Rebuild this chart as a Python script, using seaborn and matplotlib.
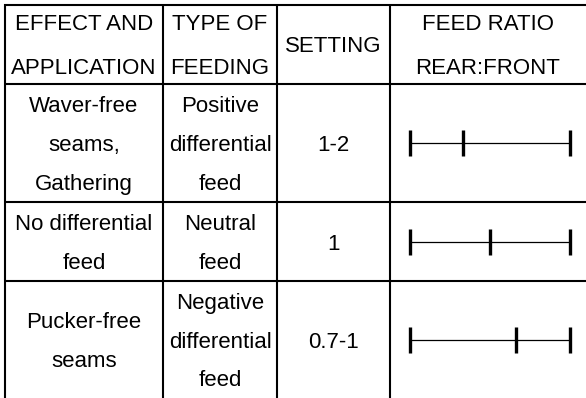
import matplotlib
matplotlib.use("Agg")
import matplotlib.pyplot as plt
import seaborn as sns
import pandas as pd

# table content
headers = [["EFFECT AND", "APPLICATION"], ["TYPE OF", "FEEDING"], ["SETTING"], ["FEED RATIO", "REAR:FRONT"]]
effects = [["Waver-free", "seams,", "Gathering"], ["No differential", "feed"], ["Pucker-free", "seams"]]
feeding = [["Positive", "differential", "feed"], ["Neutral", "feed"], ["Negative", "differential", "feed"]]
settings = ["1-2", "1", "0.7-1"]
# position of the middle mark on the rear:front bar (0 = left end, 1 = right end)
ratio_mark = [0.33, 0.5, 0.66]

sns.set_theme(style="white")
plt.rcParams["font.family"] = ["Liberation Sans", "DejaVu Sans"]

W, H = 586, 398
fig = plt.figure(figsize=(W / 100, H / 100), dpi=100)
ax = fig.add_axes([0, 0, 1, 1])

# grid layout (pixels)
col_x = [5, 163, 277, 390, W]
row_y = [5, 84, 202, 281, H]
lw = 1.5
for y in row_y[:-1]:
    ax.plot([4, W], [y, y], color="black", lw=lw, solid_capstyle="butt")
for x in col_x[:-1]:
    ax.plot([x, x], [4, H], color="black", lw=lw, solid_capstyle="butt")

fs = 16
line_gap = 39
def cell_text(col, row, lines, gap=line_gap):
    cx = (col_x[col] + col_x[col + 1]) / 2
    cy = (row_y[row] + row_y[row + 1]) / 2
    n = len(lines)
    for i, t in enumerate(lines):
        yc = cy + (i - (n - 1) / 2) * gap
        ax.text(cx, yc + 8, t, ha="center", va="baseline", fontsize=fs, color="black")

for c, h in enumerate(headers):
    cell_text(c, 0, h, gap=44)
for r in range(3):
    cell_text(0, r + 1, effects[r])
    cell_text(1, r + 1, feeding[r])
    cell_text(2, r + 1, [settings[r]])

# feed ratio bars
bar_x0, bar_x1 = 410, 570
rows = []
for r, m in enumerate(ratio_mark):
    cy = (row_y[r + 1] + row_y[r + 2]) / 2
    for p in [0, m, 1]:
        rows.append({"row": r, "px": bar_x0 + p * (bar_x1 - bar_x0), "py": cy})
marks = pd.DataFrame(rows)
for r, g in marks.groupby("row"):
    ax.plot([bar_x0, bar_x1], [g.py.iloc[0]] * 2, color="black", lw=0.9)
sns.scatterplot(data=marks, x="px", y="py", marker="|", s=360, linewidth=2.4,
                color="black", ax=ax, legend=False)
ax.set_xlim(0, W)
ax.set_ylim(H, 0)
ax.axis("off")

fig.savefig("out.png", dpi=100)
